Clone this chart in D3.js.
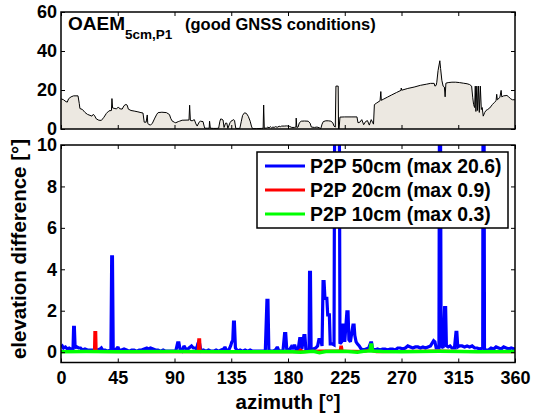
<!DOCTYPE html>
<html><head><meta charset="utf-8">
<script src="https://cdn.jsdelivr.net/npm/d3@7"></script>
<style>
body{margin:0;background:#fff}
text{font-family:"Liberation Sans",Arial,Helvetica,sans-serif;font-weight:bold;fill:#000}
</style></head>
<body><svg id="c" width="533" height="417"></svg>
<script>
// ---------- DATA ----------
const xTicks = [0,45,90,135,180,225,270,315,360];
const topYTicks = [0,20,40,60];
const botYTicks = [0,2,4,6,8,10];

// OAEM horizon elevation (deg) vs azimuth (deg)
const horizonAz = [0,2,4,5,6,8,10,13.5,14.5,15,17,19,21,23,24.5,25.5,26.5,28,30,32,34,36,38,40,40.4,40.9,42.8,44,45.5,46.5,48.5,50,51.5,52.5,53.4,55.5,58,61,63.4,65,66,67.5,68.4,68.8,69.4,71,72.5,74.4,76,77,80,83.6,86,87,88,90,91,93,94,96,101.5,102,102.6,104,105.7,107,108,109.5,110.5,112.6,113.5,114,116,117.5,117.8,118.4,121,123,125,126,126.7,127.5,128.5,129.3,130.5,131.5,132.3,134,134.8,137,137.6,138.6,141.8,143,144,145.5,147,148.5,150,151,151.8,155,159,160.3,160.7,161.2,163,164,165,166,167,168,169,170,171.5,173,174,175,177,179,181,183,185,186.3,186.5,187,188,189,190.5,193,196,197.5,198.5,201,203,205,206,207,208,210,212,214,215.5,216.5,217.5,218,219.8,220.1,220.5,221.2,225,230,234.7,235.5,237,238.5,240,241.5,243,244.5,246,247,247.8,248.5,250,253,253.6,254,256,259,262,266,269.6,269.8,270.2,275,280,285,290,293,295.9,296.5,297.5,298,299,300.4,301,302,303,304,304.6,305.2,307,310,313,316,319,322,324,325.6,326.5,327.2,328,328.5,329,329.7,330.3,331,331.7,332.5,333.3,334,334.8,336,337,338.3,340,342,343.6,345,345.5,346,348,349,349.5,351,353.6,355,356.5,358,360];
const horizonEl = [15.5,15,14,13.8,15.5,16.5,17,17,13,10.5,10,8.5,7.5,7,6.6,7.5,7,5.2,4.5,4.4,6,8,9.3,9.5,15.6,10.8,10.5,10.3,11.3,10.4,10.2,12,12.6,12.2,10.2,9.5,9.2,8.8,8.4,8.2,3.5,3.5,7.2,3,2.4,2,3,5.6,7.6,8.4,8.6,8.4,7.4,5.5,4.2,3.4,3.2,3.8,4,4.5,4.6,12.2,4.4,4.2,4.8,2.6,1.5,3.5,4,3.8,1.5,0.4,0.4,0.4,4,0.4,0.3,0.3,0.4,4,5.2,5,4.6,0.8,3,3,0.3,3.2,4,4.8,4.4,0.3,0.3,4,7,8.3,8,6.5,4,1.5,0.2,0.2,0.3,0.4,12.3,0.4,0.5,1,0.6,1.2,0.6,1,0.8,1.2,0.9,1.4,1.2,1.5,1.5,1.6,1.4,0.8,0.8,1,5.6,0.8,1,3.2,4,4.1,4,3,1,0.8,1,0.6,0.2,2.5,3.8,4.2,4.2,4,3.2,1.5,1,22,22,0,0,6.1,6.2,6.2,6.2,3.2,3.5,4.8,2.2,3.8,4.3,2,4.8,3.5,2.5,12.5,13.2,14.5,19.2,14.7,15.4,16.4,17.4,18.7,19.8,21,19.9,20.8,21.5,22.4,23,23.4,23.4,22,22.4,24,30,35,31,25,22,21.5,16.5,23.5,23.8,24,24,23.8,23.5,23.2,22.8,22,16,12.5,11,22,9,22,9.5,22,8.5,22,10,11,6.6,8.5,9.5,10,10.8,12.5,13.6,14.5,17.8,15,16.2,19.8,16.5,17,17.2,16.5,15.5,15,15];

// P2P 50cm (blue)
const p50Az = [0,1,2,3.5,5,6.5,8,9.5,10,10.6,11.2,12.5,14,15.5,17,19,21,23,25,27,29,31,32,33,35,37,39.6,40.2,40.8,41.4,43,44.5,45.2,46,48,50,52,54,56,58,60,62,64,66,68,69,71,73,75,77,79,81,83,85,87,89,91,92.5,93.5,94.5,96,97.5,98.5,100,101.5,102.5,103.5,105,106.5,107.5,108.5,109.5,110.5,111.5,113,115,117,119,121,123,125,127,129,130,131,133,134.5,135.5,136.2,136.8,137.5,138.3,140,142,144,146,148,150,152,154,156,158,160,162,163.3,164.1,164.8,166,168,170,171.5,172.5,174,176,177.3,178.2,179,181,182.5,183.5,184.5,185.5,186.5,188,189.3,190.2,191,192.6,193.4,194.2,196.7,197.1,197.8,198.3,200,202,203.5,204.5,206,207,207.8,208.6,209.3,210.8,211.5,212.8,213.5,215,216.5,217.4,218.2,218.8,219.4,220,220.6,221.2,222.5,223.5,224.3,225,226.7,227.6,228.3,229.5,231.5,232.4,233,234,235,236.5,238,240,242,244,245.5,246.3,247,249,251,253,255,257,259,261,263,265,267,269,271,273,275,277,279,281,283,285,287,289,291,293,295.5,296.5,297.5,299.7,300.1,300.9,301.4,303,304.2,305,305.6,307,308.5,310,312,313.2,313.9,314.6,316,318,320,322,324,326,328,330,332,334.4,334.7,335.4,335.8,337,339,341,343,345,347,349,351,353,355,357,360];
const p50Val = [0.25,0.3,0.2,0.25,0.15,0.2,0.15,0.1,1.2,1.2,0.2,0.25,0.2,0.2,0.1,0.15,0.1,0.1,0.1,0.1,0.1,0.15,0.2,0.1,0.1,0.05,0.1,4.6,4.6,0.15,0.1,0.2,0.25,0.1,0.1,0.15,0.1,0.05,0.1,0.1,0.05,0.1,0.1,0.15,0.2,0.15,0.2,0.15,0.1,0.1,0.05,0.1,0.05,0.05,0.05,0.05,0.05,0.45,0.45,0.1,0.05,0.3,0.2,0.1,0.2,0.25,0.3,0.2,0.2,0.15,0.4,0.55,0.2,0.05,0.1,0.05,0.1,0.05,0.05,0.1,0.05,0.1,0.15,0.25,0.1,0.1,0.3,0.5,0.55,1.45,1.45,0.2,0.05,0.1,0.05,0.1,0.05,0.1,0.05,0.05,0.05,0.05,0.05,0.05,2.5,2.5,0.1,0.05,0.05,0.1,0.25,0.1,0.05,0.05,0.9,0.9,0.15,0.1,0.25,0.15,0.3,0.3,0.1,0.1,0.65,0.65,0.15,0.8,0.8,0.1,0.1,3.85,3.85,0.15,0.15,0.2,0.3,0.6,0.6,0.3,3.4,3.4,2.6,2.6,1.8,1.8,0.4,0.4,0.35,20.6,12,20.6,13,20.6,14,0.4,0.5,1.3,1.3,0.5,1.95,1.95,0.6,0.5,1.3,1.3,0.8,0.5,0.4,0.3,0.15,0.1,0.15,0.2,0.45,0.45,0.15,0.1,0.15,0.1,0.15,0.15,0.1,0.15,0.15,0.1,0.2,0.2,0.15,0.2,0.3,0.25,0.2,0.25,0.25,0.2,0.25,0.2,0.25,0.3,0.55,0.5,0.2,0.2,12,12,0.3,0.2,2.15,2.15,0.3,0.25,0.3,0.2,0.2,0.95,0.95,0.25,0.3,0.3,0.25,0.3,0.25,0.3,0.2,0.2,0.15,0.2,14,14,0.15,0.1,0.1,0.2,0.15,0.25,0.2,0.15,0.25,0.2,0.15,0.2,0.15];

// P2P 20cm (red)
const p20Az = [0,26.5,26.8,27.6,27.9,60,108.8,109.2,110,110.4,150,188,190,192,205,215,221.3,221.8,222.5,223,240,245,250,300,320,360];
const p20Val = [0.03,0.03,0.95,0.95,0.03,0.02,0.03,0.6,0.6,0.03,0.02,0.02,0.1,0.02,0.05,0.05,0.05,0.25,0.25,0.05,0.03,0.1,0.02,0.05,0.03,0.02];

// P2P 10cm (green)
const p10Az = [0,20,45,90,135,180,190,200,205,210,225,235,240,245,245.6,246.4,247,255,270,300,330,360];
const p10Val = [0.02,0.03,0.02,0.03,0.02,0.03,0,0.04,-0.03,0.03,0.04,0,0.04,0.06,0.35,0.35,0.05,0.03,0.02,0.04,0.02,0.03];

const seriesNames = ["P2P 50cm (max 20.6)","P2P 20cm (max 0.9)","P2P 10cm (max 0.3)"];
const seriesColors = ["#0000ff","#ff0000","#00ff00"];

// ---------- LAYOUT ----------
const svg = d3.select("#c");
const L = 61, R = 515;
const topT = 12, topB = 129;
const botT = 145, botB = 362.5;

const x = d3.scaleLinear().domain([0,360]).range([L,R]);
const yTop = d3.scaleLinear().domain([0,60]).range([topB,topT]);
const yBot = d3.scaleLinear().domain([-0.5,10]).range([botB,botT]);

const defs = svg.append("defs");
defs.append("clipPath").attr("id","clipTop").append("rect")
  .attr("x",L).attr("y",topT).attr("width",R-L).attr("height",topB-topT);
defs.append("clipPath").attr("id","clipBot").append("rect")
  .attr("x",L).attr("y",botT).attr("width",R-L).attr("height",botB-botT);

// ---------- TOP PANEL ----------
const hz = horizonAz.map((a,i)=>({a, e:horizonEl[i]}));
const gTop = svg.append("g").attr("clip-path","url(#clipTop)");
gTop.append("path").datum(hz)
  .attr("d", d3.area().x(d=>x(d.a)).y0(yTop(0)).y1(d=>yTop(d.e)))
  .attr("fill","#ece8e1");
gTop.append("path").datum(hz)
  .attr("d", d3.line().x(d=>x(d.a)).y(d=>yTop(d.e)))
  .attr("fill","none").attr("stroke","#000").attr("stroke-width",1);

function axesFor(yScale, yT, yB, yTicks, showX){
  const gl = svg.append("g").attr("transform",`translate(${L},0)`)
    .call(d3.axisLeft(yScale).tickValues(yTicks).tickSize(-4).tickPadding(4));
  const gr = svg.append("g").attr("transform",`translate(${R},0)`)
    .call(d3.axisRight(yScale).tickValues(yTicks).tickSize(-4).tickFormat(""));
  const gb = svg.append("g").attr("transform",`translate(0,${yB})`)
    .call(d3.axisBottom(x).tickValues(xTicks).tickSize(-4).tickPadding(9)
      .tickFormat(showX ? d3.format("d") : ""));
  const gt = svg.append("g").attr("transform",`translate(0,${yT})`)
    .call(d3.axisTop(x).tickValues(xTicks).tickSize(-4).tickFormat(""));
  [gl,gr,gb,gt].forEach(g=>{
    g.select(".domain").remove();
    g.selectAll(".tick line").attr("stroke","#000").attr("stroke-width",1);
    g.selectAll(".tick text").attr("font-size",18).attr("font-family",null).attr("fill","#000");
  });
  svg.append("rect").attr("x",L).attr("y",yT).attr("width",R-L).attr("height",yB-yT)
    .attr("fill","none").attr("stroke","#000").attr("stroke-width",1.5);
}
axesFor(yTop, topT, topB, topYTicks, false);

// title
const title = svg.append("text").attr("x",68).attr("y",30).attr("font-size",19);
title.append("tspan").text("OAEM");
title.append("tspan").attr("font-size",13.5).attr("dy",9).text("5cm,P1");
svg.append("text").attr("x",185).attr("y",30).attr("font-size",16.5).text("(good GNSS conditions)");

// ---------- BOTTOM PANEL ----------
const gBot = svg.append("g").attr("clip-path","url(#clipBot)");
const lineGen = d3.line().x(d=>x(d.a)).y(d=>yBot(d.v));
const series = [
  {az:p50Az, val:p50Val, w:3.2},
  {az:p20Az, val:p20Val, w:3},
  {az:p10Az, val:p10Val, w:3.5}
];
series.forEach((s,k)=>{
  const pts = s.az.map((a,i)=>({a, v:s.val[i]}));
  gBot.append("path").datum(pts).attr("d",lineGen)
    .attr("fill","none").attr("stroke",seriesColors[k])
    .attr("stroke-width",s.w).attr("stroke-linejoin","miter").attr("stroke-miterlimit",2);
});

axesFor(yBot, botT, botB, botYTicks, true);

// legend
const lg = svg.append("g");
lg.append("rect").attr("x",257).attr("y",152).attr("width",251).attr("height",76)
  .attr("fill","#fff").attr("stroke","#000").attr("stroke-width",1.5);
seriesNames.forEach((n,k)=>{
  const yy = 166 + k*24;
  lg.append("line").attr("x1",265).attr("x2",305).attr("y1",yy).attr("y2",yy)
    .attr("stroke",seriesColors[k]).attr("stroke-width",3);
  lg.append("text").attr("x",310).attr("y",yy+7).attr("font-size",19.4).text(n);
});

// axis labels
svg.append("text").attr("x",(L+R)/2).attr("y",409).attr("text-anchor","middle")
  .attr("font-size",20.5).text("azimuth [°]");
svg.append("text").attr("transform","translate(26,249) rotate(-90)").attr("text-anchor","middle")
  .attr("font-size",20.5).text("elevation difference [°]");
</script></body></html>
